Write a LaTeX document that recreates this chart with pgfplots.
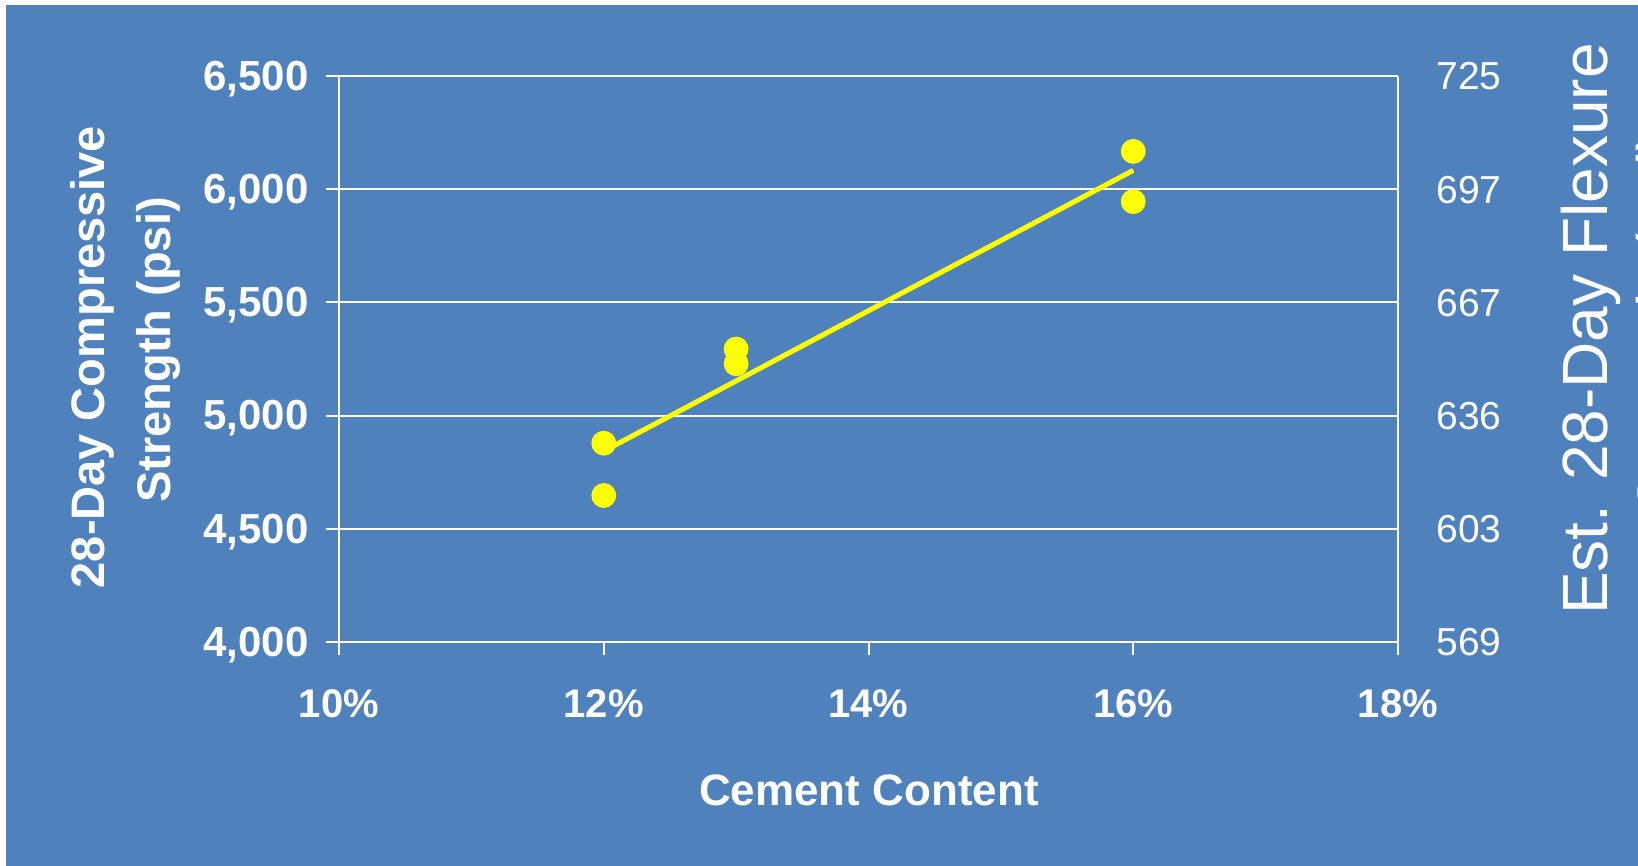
\documentclass[border=0pt]{standalone}
\usepackage{pgfplots}
\pgfplotsset{compat=1.18}
\usepackage{fontspec}
\setmainfont{Liberation Sans}

\definecolor{slideblue}{RGB}{79,129,189}
\definecolor{markyellow}{RGB}{255,255,0}

% measured strength results, percent cement vs psi
\pgfplotstableread{
x    y
12   4878
12   4647
13   5294
13   5229
16   6167
16   5945
}\strengthdata

\begin{document}
\begin{tikzpicture}
  % page frame: 1 px = 0.5 pt
  \useasboundingbox (0,0) rectangle (819pt,433pt);
  \fill[white] (0,0) rectangle (819pt,433pt);
  \fill[slideblue] (3pt,0) rectangle (819pt,430.5pt);

  \begin{axis}[
    at={(169.5pt,112pt)}, anchor=south west,
    scale only axis, width=529.5pt, height=283pt,
    xmin=10, xmax=18, ymin=4000, ymax=6500,
    xtick={10,12,14,16,18},
    xticklabels={10\%,12\%,14\%,16\%,18\%},
    ytick={4000,4500,5000,5500,6000,6500},
    yticklabels={{4,000},{4,500},{5,000},{5,500},{6,000},{6,500}},
    axis x line*=bottom, axis y line*=left,
    axis line style={white, line width=1pt},
    tick align=outside, major tick length=6.5pt,
    tick style={white, line width=1pt},
    ymajorgrids, grid style={white, line width=1pt},
    xticklabel style={font=\bfseries\fontsize{20}{24}\selectfont, text=white,
      anchor=base, inner sep=0pt, yshift=-31.5pt},
    yticklabel style={font=\bfseries\fontsize{21}{24}\selectfont, text=white,
      anchor=base east, inner sep=0pt, xshift=-8.5pt, yshift=-7.2pt},
    clip=false,
  ]
    \addplot[only marks, mark=*, mark size=6pt, markyellow,
      mark options={fill=markyellow, draw=markyellow}] table[x=x,y=y] {\strengthdata};
    % least-squares trend line
    \addplot[markyellow, line width=2.5pt, no marks] coordinates {(12,4843) (16,6083)};
  \end{axis}

  \begin{axis}[
    at={(169.5pt,112pt)}, anchor=south west,
    scale only axis, width=529.5pt, height=283pt,
    xmin=10, xmax=18, ymin=4000, ymax=6500,
    axis x line=none, axis y line*=right,
    axis line style={white, line width=1pt},
    ytick={4000,4500,5000,5500,6000,6500},
    yticklabels={569,603,636,667,697,725},
    major tick length=0pt,
    yticklabel style={font=\fontsize{19.5}{24}\selectfont, text=white,
      anchor=base, inner sep=0pt, xshift=35.5pt, yshift=-7pt},
  ]
  \end{axis}

  % axis titles
  \node[rotate=90, anchor=base, text=white, font=\bfseries\fontsize{23.5}{28}\selectfont]
    at (52pt,254.5pt) {28-Day Compressive};
  \node[rotate=90, anchor=base, text=white, font=\bfseries\fontsize{23.5}{28}\selectfont]
    at (85pt,258pt) {Strength (psi)};
  \node[anchor=base, text=white, font=\bfseries\fontsize{22}{26}\selectfont]
    at (434.5pt,30pt) {Cement Content};
  \node[rotate=90, anchor=base, text=white, font=\fontsize{32}{38}\selectfont]
    at (803.5pt,268.5pt) {Est. 28-Day Flexure};
  \node[rotate=90, anchor=base, text=white, font=\fontsize{32}{38}\selectfont]
    at (841pt,272pt) {Strength (psi)};
\end{tikzpicture}
\end{document}
